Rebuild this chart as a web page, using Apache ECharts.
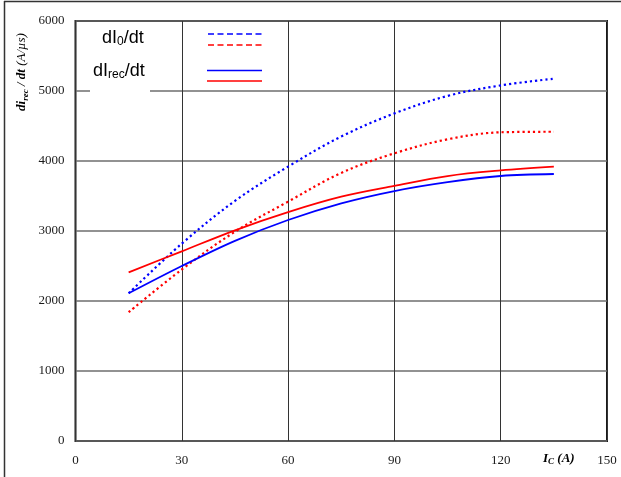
<!DOCTYPE html>
<html>
<head>
<meta charset="utf-8">
<script src="https://cdn.jsdelivr.net/npm/echarts@6/dist/echarts.min.js"></script>
<style>
  html, body { margin: 0; padding: 0; background: #fff; }
  #chart { width: 621px; height: 477px; }
</style>
</head>
<body>
<div id="chart"></div>
<script>
// Collector current I_C (A)
const currents = [15, 30, 45, 60, 75, 90, 105, 120, 135];

// dI0/dt curves (dotted)
const dI0Blue = [2110, 2820, 3430, 3920, 4350, 4680, 4930, 5080, 5175];
const dI0Red  = [1840, 2450, 2990, 3420, 3830, 4110, 4310, 4410, 4418];

// dIrec/dt curves (solid)
const dIrecBlue = [2110, 2500, 2860, 3157, 3395, 3571, 3698, 3786, 3814];
const dIrecRed  = [2410, 2710, 3010, 3270, 3490, 3645, 3785, 3865, 3919];

const xTicks = [0, 30, 60, 90, 120, 150];
const yTicks = [0, 1000, 2000, 3000, 4000, 5000, 6000];

const BLUE = '#0000ff';
const RED = '#ff0000';
const SERIF = '"Liberation Serif", "DejaVu Serif", serif';
const SANS = '"Liberation Sans", Arial, sans-serif';

const pairs = (ys) => currents.map((x, i) => [x, ys[i]]);

const chart = echarts.init(document.getElementById('chart'), null, { renderer: 'canvas' });

const lineSeries = (name, ys, color, dotted) => ({
  name,
  type: 'line',
  data: pairs(ys),
  smooth: 0.35,
  symbol: 'none',
  silent: true,
  z: 3,
  lineStyle: {
    color,
    width: dotted ? 2.2 : 1.8,
    type: dotted ? [2.2, 3] : 'solid',
    cap: 'butt'
  }
});

chart.setOption({
  animation: false,
  backgroundColor: '#ffffff',
  grid: {
    left: 75.5, right: 14, top: 21, bottom: 36,
    show: true,
    borderColor: '#1a1a1a',
    borderWidth: 2,
    backgroundColor: 'transparent'
  },
  xAxis: {
    type: 'value',
    min: xTicks[0],
    max: xTicks[xTicks.length - 1],
    interval: 30,
    axisLine: { show: false },
    axisTick: { show: false },
    axisLabel: {
      margin: 13,
      fontFamily: SERIF,
      fontSize: 13,
      color: '#1a1a1a',
      showMinLabel: true,
      showMaxLabel: true,
      formatter: (v) => String(v)
    },
    splitLine: { show: true, lineStyle: { color: '#333333', width: 1 } }
  },
  yAxis: {
    type: 'value',
    min: yTicks[0],
    max: yTicks[yTicks.length - 1],
    interval: 1000,
    axisLine: { show: false },
    axisTick: { show: false },
    axisLabel: {
      margin: 11,
      fontFamily: SERIF,
      fontSize: 13,
      color: '#1a1a1a',
      formatter: (v) => String(v)
    },
    splitLine: { show: true, lineStyle: { color: '#6e6e6e', width: 1.6 } }
  },
  series: [
    lineSeries('dI0 blue', dI0Blue, BLUE, true),
    lineSeries('dI0 red', dI0Red, RED, true),
    lineSeries('dIrec blue', dIrecBlue, BLUE, false),
    lineSeries('dIrec red', dIrecRed, RED, false)
  ],
  graphic: [
    // outer frame (top and left edges)
    { type: 'line', z: 10, shape: { x1: 4, y1: 1.5, x2: 621, y2: 1.5 }, style: { stroke: '#333', lineWidth: 1.5 } },
    { type: 'line', z: 10, shape: { x1: 4.5, y1: 1, x2: 4.5, y2: 477 }, style: { stroke: '#333', lineWidth: 1.5 } },
    // white box behind the legend captions
    { type: 'rect', z: 5, shape: { x: 90, y: 58, width: 60, height: 36 }, style: { fill: '#ffffff' } },
    {
      type: 'text', z: 6, left: 102, top: 29,
      style: {
        text: '{a|dI}{s|0}{a|/dt}',
        rich: {
          a: { fontFamily: SANS, fontSize: 18, fill: '#000', lineHeight: 20 },
          s: { fontFamily: SANS, fontSize: 12, fill: '#000', lineHeight: 10, verticalAlign: 'bottom' }
        }
      }
    },
    {
      type: 'text', z: 6, left: 93, top: 62,
      style: {
        text: '{a|dI}{s|rec}{a|/dt}',
        rich: {
          a: { fontFamily: SANS, fontSize: 18, fill: '#000', lineHeight: 20 },
          s: { fontFamily: SANS, fontSize: 12, fill: '#000', lineHeight: 10, verticalAlign: 'bottom' }
        }
      }
    },
    // legend line samples
    { type: 'line', z: 6, shape: { x1: 208, y1: 34, x2: 262, y2: 34 }, style: { stroke: BLUE, lineWidth: 1.5, lineDash: [6, 3.5] } },
    { type: 'line', z: 6, shape: { x1: 208, y1: 45, x2: 262, y2: 45 }, style: { stroke: RED, lineWidth: 1.5, lineDash: [6, 3.5] } },
    { type: 'line', z: 6, shape: { x1: 207, y1: 70.5, x2: 262, y2: 70.5 }, style: { stroke: BLUE, lineWidth: 1.6 } },
    { type: 'line', z: 6, shape: { x1: 207, y1: 81, x2: 262, y2: 81 }, style: { stroke: RED, lineWidth: 1.6 } },
    // y-axis title
    {
      type: 'text', z: 6, x: 22, y: 72, rotation: Math.PI / 2,
      style: {
        text: '{b|di}{bs|rec}{b| / dt }{i|(A/µs)}',
        align: 'center', verticalAlign: 'middle',
        rich: {
          b: { fontFamily: SERIF, fontSize: 13, fontWeight: 'bold', fontStyle: 'italic', fill: '#000', lineHeight: 16 },
          bs: { fontFamily: SERIF, fontSize: 9, fontWeight: 'bold', fontStyle: 'italic', fill: '#000', lineHeight: 8, verticalAlign: 'bottom' },
          i: { fontFamily: SERIF, fontSize: 13, fontStyle: 'italic', fill: '#000', lineHeight: 16 }
        }
      }
    },
    // x-axis title
    {
      type: 'text', z: 6, left: 543, top: 452,
      style: {
        text: '{b|I}{bs|C}{i| (A)}',
        rich: {
          b: { fontFamily: SERIF, fontSize: 13, fontWeight: 'bold', fontStyle: 'italic', fill: '#000', lineHeight: 16 },
          bs: { fontFamily: SERIF, fontSize: 9, fontWeight: 'bold', fontStyle: 'italic', fill: '#000', lineHeight: 8, verticalAlign: 'bottom' },
          i: { fontFamily: SERIF, fontSize: 13, fontWeight: 'bold', fontStyle: 'italic', fill: '#000', lineHeight: 16 }
        }
      }
    }
  ]
});
</script>
</body>
</html>
